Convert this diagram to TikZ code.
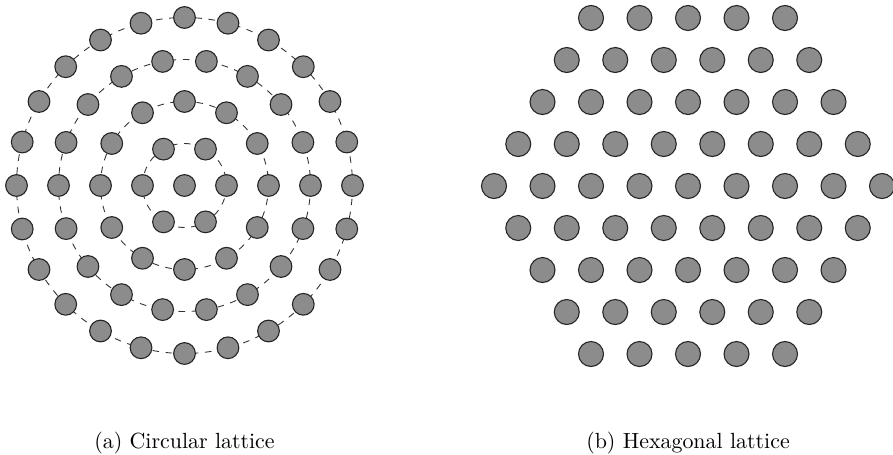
\documentclass[tikz,border=0pt]{standalone}
\usepackage{tikz}
\usetikzlibrary{positioning,calc}
\definecolor{atomgray}{HTML}{8C8C8C}
\tikzset{
  lat/atom/.style={draw=black!85, circle, fill=atomgray, line width=0.5pt, inner sep=0pt, minimum size=9.9pt},
  lat/bigatom/.style={lat/atom, minimum size=11.4pt},
  lat/ring/.style={draw=black!80, dashed, line width=0.4pt},
  lat/caption/.style={font=\normalsize, inner sep=0pt}
}

\begin{document}
\begin{tikzpicture}[x=0.456pt, y=-0.456pt]
  \useasboundingbox (0,0) rectangle (893,454);

  % circular lattice
  \coordinate (circ) at (184.5,185.5);
  \foreach \k in {1,...,4}
    \draw[lat/ring] (circ) circle [radius=42*\k];
  \node[lat/atom] (c-0-0) at (circ) {};
  \foreach \k in {1,...,4}{
    \pgfmathtruncatemacro{\n}{6*\k}
    \foreach \j in {1,...,\n}
      \node[lat/atom] (c-\k-\j) at ($(circ)+({360/\n*(\j-1)}:{42*\k})$) {};
  }

  % hexagonal lattice
  \coordinate (hex) at (688,186);
  \foreach \r in {-4,...,4}{
    \pgfmathtruncatemacro{\n}{9-abs(\r)}
    \foreach \j in {1,...,\n}
      \node[lat/bigatom] (h-\r-\j) at ($(hex)+({48.5*(\j-(\n+1)/2)},{42*\r})$) {};
  }

  \node[lat/caption] (capa) at (184.5,443) {(a) Circular lattice};
  \node[lat/caption] (capb) at (688,443) {(b) Hexagonal lattice};
\end{tikzpicture}
\end{document}
